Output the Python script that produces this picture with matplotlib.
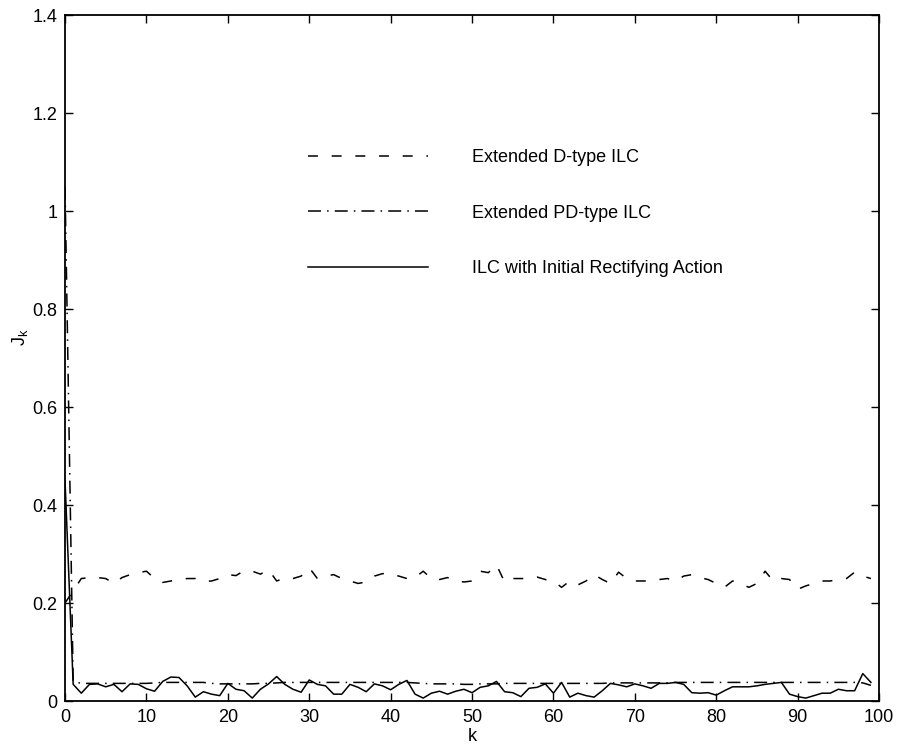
import matplotlib
matplotlib.use('Agg')
import matplotlib.pyplot as plt
from matplotlib.ticker import FormatStrFormatter, MultipleLocator
import numpy as np

plt.rcParams['font.family'] = ['Liberation Sans', 'DejaVu Sans']
plt.rcParams['font.size'] = 13

# iteration index
k = np.arange(100)

# Extended D-type ILC (dashed)
j_d = [0.200, 0.225, 0.250, 0.252, 0.252, 0.250, 0.240, 0.252, 0.258, 0.262,
       0.265, 0.250, 0.242, 0.245, 0.248, 0.250, 0.250, 0.244, 0.245, 0.250,
       0.258, 0.256, 0.266, 0.265, 0.259, 0.268, 0.245, 0.251, 0.250, 0.255,
       0.272, 0.250, 0.255, 0.258, 0.250, 0.245, 0.240, 0.243, 0.255, 0.260,
       0.260, 0.255, 0.250, 0.252, 0.265, 0.250, 0.248, 0.252, 0.245, 0.243,
       0.245, 0.265, 0.262, 0.278, 0.243, 0.250, 0.250, 0.250, 0.253, 0.248,
       0.245, 0.232, 0.245, 0.237, 0.245, 0.258, 0.248, 0.240, 0.263, 0.250,
       0.245, 0.245, 0.245, 0.248, 0.250, 0.245, 0.255, 0.258, 0.252, 0.248,
       0.240, 0.232, 0.245, 0.240, 0.232, 0.240, 0.265, 0.245, 0.250, 0.248,
       0.228, 0.235, 0.240, 0.245, 0.245, 0.248, 0.250, 0.263, 0.255, 0.250]

# Extended PD-type ILC (dash-dot)
j_pd = [1.050, 0.040, 0.036, 0.036, 0.036, 0.036, 0.036, 0.036, 0.036, 0.036,
        0.036, 0.037, 0.038, 0.038, 0.038, 0.038, 0.038, 0.038, 0.036, 0.035,
        0.035, 0.035, 0.035, 0.035, 0.036, 0.036, 0.037, 0.038, 0.038, 0.038,
        0.038, 0.038, 0.038, 0.038, 0.038, 0.038, 0.038, 0.038, 0.038, 0.038,
        0.038, 0.038, 0.038, 0.037, 0.036, 0.035, 0.035, 0.035, 0.035, 0.034,
        0.034, 0.035, 0.035, 0.035, 0.036, 0.036, 0.036, 0.036, 0.036, 0.036,
        0.036, 0.036, 0.036, 0.036, 0.036, 0.036, 0.036, 0.037, 0.037, 0.037,
        0.037, 0.037, 0.037, 0.037, 0.037, 0.038, 0.038, 0.038, 0.038, 0.038,
        0.038, 0.038, 0.038, 0.038, 0.038, 0.038, 0.038, 0.038, 0.038, 0.038,
        0.038, 0.038, 0.038, 0.038, 0.038, 0.038, 0.038, 0.038, 0.037, 0.032]

# ILC with Initial Rectifying Action (solid)
j_ira = [0.450, 0.034, 0.016, 0.034, 0.035, 0.029, 0.034, 0.019, 0.035, 0.034,
         0.025, 0.020, 0.040, 0.049, 0.048, 0.031, 0.008, 0.019, 0.014, 0.011,
         0.036, 0.024, 0.021, 0.006, 0.024, 0.035, 0.050, 0.034, 0.024, 0.018,
         0.043, 0.034, 0.031, 0.014, 0.014, 0.034, 0.028, 0.019, 0.035, 0.031,
         0.023, 0.034, 0.042, 0.014, 0.006, 0.016, 0.020, 0.014, 0.020, 0.024,
         0.017, 0.028, 0.031, 0.040, 0.019, 0.017, 0.009, 0.026, 0.028, 0.035,
         0.016, 0.038, 0.008, 0.016, 0.011, 0.008, 0.021, 0.036, 0.033, 0.029,
         0.035, 0.031, 0.026, 0.036, 0.036, 0.038, 0.034, 0.017, 0.016, 0.017,
         0.012, 0.021, 0.029, 0.029, 0.029, 0.031, 0.034, 0.036, 0.038, 0.014,
         0.009, 0.006, 0.011, 0.016, 0.016, 0.024, 0.021, 0.021, 0.056, 0.038]

labels = ['Extended D-type ILC', 'Extended PD-type ILC',
          'ILC with Initial Rectifying Action']

fig = plt.figure(figsize=(8.97, 7.48), dpi=100)
ax = fig.add_axes([0.0725, 0.0628, 0.9075, 0.917])

ax.plot(k, j_d, color='black', lw=1.1, dashes=(6.5, 9.0), label=labels[0])
ax.plot(k, j_pd, color='black', lw=1.1, dashes=(8.5, 4.0, 1.0, 4.0), label=labels[1])
ax.plot(k, j_ira, color='black', lw=1.1, label=labels[2])

ax.set_xlim(0, 100)
ax.set_ylim(0, 1.4)
ax.xaxis.set_major_locator(MultipleLocator(10))
ax.yaxis.set_major_locator(MultipleLocator(0.2))
ax.yaxis.set_major_formatter(FormatStrFormatter('%g'))
ax.tick_params(direction='in', top=True, right=True, length=6, width=1,
               labelsize=13, pad=5.5)
for s in ax.spines.values():
    s.set_linewidth(1.3)

ax.set_xlabel('k', fontsize=13, labelpad=2)
ax.set_ylabel('J$_\\mathregular{k}$', fontsize=13)
ax.yaxis.set_label_coords(-0.043, 0.53)

leg = ax.legend(loc='upper left', bbox_to_anchor=(0.2985, 0.805), frameon=False,
                borderpad=0, borderaxespad=0, handlelength=6.65, handletextpad=2.44,
                labelspacing=2.14, fontsize=13)

fig.savefig('out.png', dpi=100)
